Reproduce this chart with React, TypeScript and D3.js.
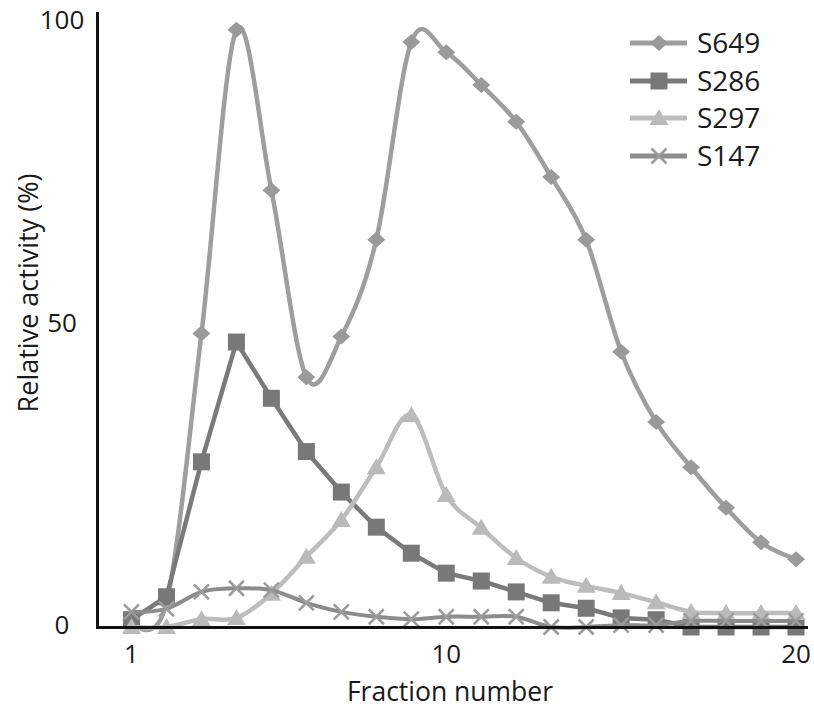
import React from 'react';
import * as d3 from 'd3';

// Fraction numbers along the x axis
const fractions = [1, 2, 3, 4, 5, 6, 7, 8, 9, 10, 11, 12, 13, 14, 15, 16, 17, 18, 19, 20];

// Relative activity (%) per fraction for each strain
const s649 = [1, 4, 48.5, 98.7, 72.2, 41.3, 48, 64, 96.7, 95, 89.6, 83.5, 74.4, 64, 45.5, 33.9, 26.4, 19.7, 14, 11.2];
const s286 = [1.2, 5, 27.3, 47.1, 37.8, 29, 22.3, 16.5, 12.2, 8.9, 7.6, 5.8, 4, 3.1, 1.5, 1.2, 0, 0, 0, 0];
const s297 = [0, 0, 1.3, 1.5, 5.5, 11.6, 17.7, 26.4, 35, 21.8, 16.4, 11.4, 8.3, 6.8, 5.6, 4.1, 2.5, 2.3, 2.3, 2.3];
const s147 = [2.5, 3, 5.8, 6.4, 6.1, 4, 2.5, 1.7, 1.3, 1.7, 1.7, 1.7, 0, 0, 0.3, 0.3, 1, 1, 1, 1];

const seriesNames = ['S649', 'S286', 'S297', 'S147'];

const xTicks = [1, 10, 20];
const yTicks = [0, 50, 100];

type Marker = 'diamond' | 'square' | 'triangle' | 'x';

const seriesStyle: { name: string; values: number[]; color: string; markerColor: string; marker: Marker; smooth: boolean; width: number }[] = [
  { name: seriesNames[0], values: s649, color: '#9e9e9e', markerColor: '#9a9a9a', marker: 'diamond', smooth: true, width: 4.5 },
  { name: seriesNames[1], values: s286, color: '#7a7a7a', markerColor: '#787878', marker: 'square', smooth: false, width: 4.5 },
  { name: seriesNames[2], values: s297, color: '#bdbdbd', markerColor: '#bababa', marker: 'triangle', smooth: true, width: 4.5 },
  { name: seriesNames[3], values: s147, color: '#8c8c8c', markerColor: '#9c9c9c', marker: 'x', smooth: true, width: 4 },
];

const W = 814;
const H = 709;
const FONT = "'Open Sans', 'DejaVu Sans', sans-serif";

const x = d3.scaleLinear().domain([1, 20]).range([131.5, 796]);
const y = d3.scaleLinear().domain([0, 100]).range([627, 22]);

function markerPath(kind: Marker): string {
  const p = d3.path();
  if (kind === 'diamond') {
    p.moveTo(0, -8); p.lineTo(9, 0); p.lineTo(0, 8); p.lineTo(-9, 0); p.closePath();
  } else if (kind === 'square') {
    p.rect(-8.5, -8.5, 17, 17);
  } else if (kind === 'triangle') {
    p.moveTo(0, -9); p.lineTo(9.5, 7); p.lineTo(-9.5, 7); p.closePath();
  } else {
    p.moveTo(-7.5, -7.5); p.lineTo(7.5, 7.5); p.moveTo(7.5, -7.5); p.lineTo(-7.5, 7.5);
  }
  return p.toString();
}

function MarkerShape({ kind, color, cx, cy }: { kind: Marker; color: string; cx: number; cy: number }) {
  const d = markerPath(kind);
  if (kind === 'x') {
    return <path d={d} transform={`translate(${cx},${cy})`} fill="none" stroke={color} strokeWidth={2.6} />;
  }
  return <path d={d} transform={`translate(${cx},${cy})`} fill={color} />;
}

export default function App() {
  const legendRows = [43, 81, 118, 156];

  return (
    <svg width={W} height={H} style={{ position: 'absolute', left: 0, top: 0, background: '#fff' }} fontFamily={FONT}>
      <rect width={W} height={H} fill="#fff" />

      {/* series lines and markers */}
      {seriesStyle.map((s) => {
        const line = d3
          .line<number>()
          .x((_, i) => x(fractions[i]))
          .y((v) => y(v))
          .curve(s.smooth ? d3.curveCardinal.tension(0) : d3.curveLinear);
        return (
          <g key={s.name}>
            <path d={line(s.values) || ''} fill="none" stroke={s.color} strokeWidth={s.width} strokeLinejoin="round" />
            {s.values.map((v, i) => (
              <MarkerShape key={i} kind={s.marker} color={s.markerColor} cx={x(fractions[i])} cy={y(v)} />
            ))}
          </g>
        );
      })}

      {/* axes */}
      <line x1={97.5} x2={97.5} y1={12} y2={629} stroke="#111" strokeWidth={3} />
      <line x1={96} x2={808} y1={627.5} y2={627.5} stroke="#111" strokeWidth={3} />

      {/* y tick labels */}
      {yTicks.map((t) => (
        <text key={t} x={62} y={y(t) + 7} textAnchor="middle" fontSize={26} fill="#1a1a1a">
          {t}
        </text>
      ))}

      {/* x tick labels */}
      {xTicks.map((t) => (
        <text key={t} x={x(t)} y={663} textAnchor="middle" fontSize={26} fill="#1a1a1a">
          {t}
        </text>
      ))}

      {/* axis titles */}
      <text x={450} y={701} textAnchor="middle" fontSize={26.5} fill="#1a1a1a">
        Fraction number
      </text>
      <text transform="translate(38,293) rotate(-90)" textAnchor="middle" fontSize={27} fill="#1a1a1a">
        Relative activity (%)
      </text>

      {/* legend */}
      {seriesStyle.map((s, i) => (
        <g key={s.name}>
          <line x1={630} x2={687} y1={legendRows[i]} y2={legendRows[i]} stroke={s.color} strokeWidth={5} />
          <MarkerShape kind={s.marker} color={s.markerColor} cx={659} cy={legendRows[i]} />
          <text x={697} y={legendRows[i] + 10} fontSize={28} fill="#1a1a1a">
            {s.name}
          </text>
        </g>
      ))}
    </svg>
  );
}
